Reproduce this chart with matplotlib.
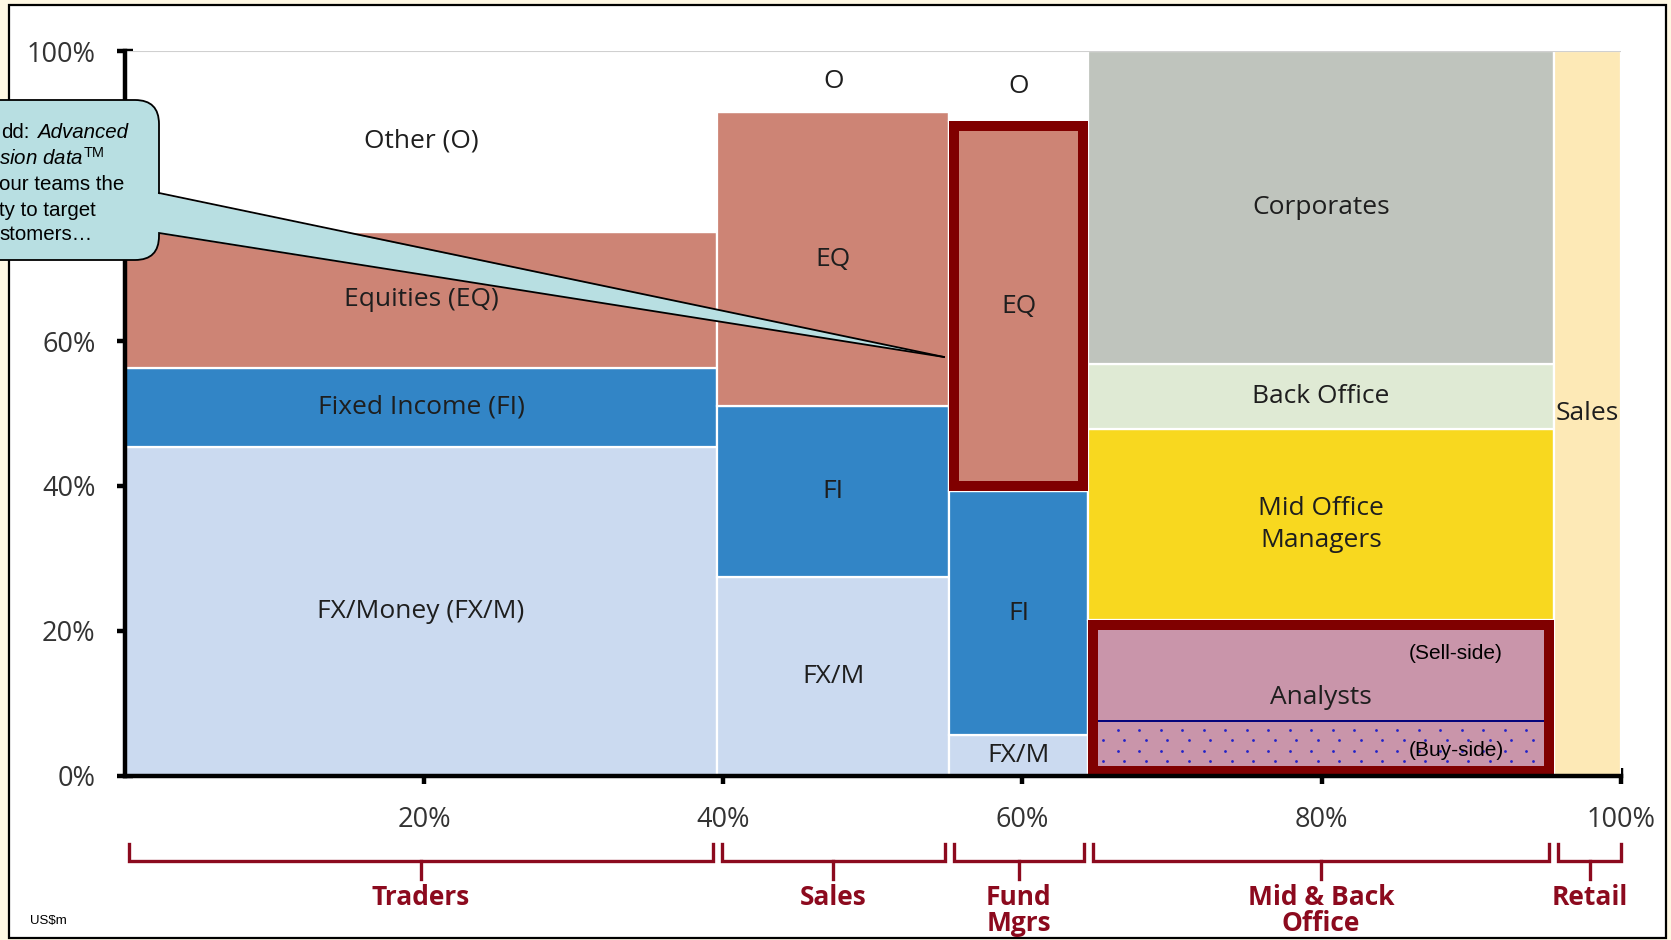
import numpy as np
import matplotlib
matplotlib.use("Agg")
import matplotlib.pyplot as plt
import matplotlib.transforms as mtransforms
from matplotlib.patches import Rectangle, FancyBboxPatch, Polygon
from matplotlib.lines import Line2D

# ---------------------------------------------------------------- data
groups = ['Traders', 'Sales', 'Fund\nMgrs', 'Mid & Back\nOffice', 'Retail']
group_widths = [39.6, 15.5, 9.3, 31.1, 4.5]          # % of total spend

# stacked bottom -> top within each column (% of column)
traders_shares = [45.4, 10.9, 18.8, 24.9]
traders_labels = ['FX/Money (FX/M)', 'Fixed Income (FI)', 'Equities (EQ)', 'Other (O)']
sales_shares = [27.5, 23.5, 40.6, 8.4]
sales_labels = ['FX/M', 'FI', 'EQ', 'O']
fund_shares = [5.6, 33.7, 51.0, 9.7]
fund_labels = ['FX/M', 'FI', 'EQ', 'O']
office_shares = [21.5, 26.3, 9.1, 43.1]
office_labels = ['Analysts', 'Mid Office\nManagers', 'Back Office', 'Corporates']
retail_shares = [100.0]
retail_labels = ['Sales']
buy_side_share = 7.5                                   # lower part of Analysts

y_ticks = [0, 20, 40, 60, 80, 100]
y_tick_labels = ['0%', '20%', '40%', '60%', '', '100%']   # 80% sits under the callout
x_ticks = [20, 40, 60, 80, 100]
x_tick_labels = ['20%', '40%', '60%', '80%', '100%']

market_colors = ['#CBDAF0', '#3285C6', '#CD8475', '#FFFFFF']
office_colors = ['#C995AA', '#F8D81F', '#DFEAD4', '#BFC4BD']
retail_colors = ['#FDE9B6']

# (column, segment) pairs outlined in red
highlights = [(2, 2), (3, 0)]

# ---------------------------------------------------------------- style
W, H, DPI = 1671, 940, 100
LABEL_FONT = 'Open Sans'
NOTE_FONT = 'Liberation Sans'
TEXT_COL = '#1E1E1E'
BRACKET_COL = '#8C0A1E'
FRAME_COL = '#800000'

plt.rcParams['mathtext.fontset'] = 'custom'
plt.rcParams['mathtext.rm'] = 'Liberation Sans'
plt.rcParams['mathtext.it'] = 'Liberation Sans:italic'

fig = plt.figure(figsize=(W / DPI, H / DPI), dpi=DPI)
fig.patch.set_facecolor('#FFF8E3')

# pixel coordinates, origin top-left
px = mtransforms.Affine2D().scale(1 / W, -1 / H).translate(0, 1) + fig.transFigure

# white page with border
fig.add_artist(Rectangle((9, 5), 1657, 933, transform=px, facecolor='white',
                         edgecolor='black', lw=1.6, zorder=-5))

x0_px, x1_px, y0_px, y1_px = 124.7, 1621.0, 775.8, 51.2
ax = fig.add_axes([x0_px / W, 1 - y0_px / H, (x1_px - x0_px) / W, (y0_px - y1_px) / H])
ax.set_facecolor('none')
ax.set_xlim(0, 100)
ax.set_ylim(0, 100)
ax_w_px = x1_px - x0_px
ax_h_px = y0_px - y1_px

columns = [
    (traders_shares, traders_labels, market_colors),
    (sales_shares, sales_labels, market_colors),
    (fund_shares, fund_labels, market_colors),
    (office_shares, office_labels, office_colors),
    (retail_shares, retail_labels, retail_colors),
]

lefts = []
acc = 0.0
for w in group_widths:
    lefts.append(acc)
    acc += w

seg_bounds = {}
for ci, ((shares, labels, colors), left, width) in enumerate(zip(columns, lefts, group_widths)):
    bottom = 0.0
    for si, (val, lab, col) in enumerate(zip(shares, labels, colors)):
        ax.bar(left, val, width=width, bottom=bottom, align='edge', color=col,
               edgecolor='white', linewidth=1.6, zorder=2)
        ax.text(left + width / 2, bottom + val / 2, lab, ha='center', va='center',
                fontsize=19, family=LABEL_FONT, color=TEXT_COL, zorder=6,
                linespacing=1.35)
        seg_bounds[(ci, si)] = (left, bottom, width, val)
        bottom += val

ax.axhline(100, color='#D0D0D0', lw=1.5, zorder=3)

# red frames around the highlighted segments
frame_px = 10.0
dx = frame_px / 2 / ax_w_px * 100
dy = frame_px / 2 / ax_h_px * 100
for key in highlights:
    l, b, w, h = seg_bounds[key]
    ax.add_patch(Rectangle((l + dx, b + dy), w - 2 * dx, h - 2 * dy, facecolor='none',
                           edgecolor=FRAME_COL, lw=frame_px * 72 / DPI, zorder=5,
                           joinstyle='miter', clip_on=False))

# buy-side analysts: dotted band with dividing line
a_left, a_bottom, a_width, a_height = seg_bounds[(3, 0)]
in_l, in_r = a_left + 2 * dx, a_left + a_width - 2 * dx
in_b = 2 * dy
pitch_x = 21.5 / ax_w_px * 100
pitch_y = 10.5 / ax_h_px * 100
rows = np.arange(buy_side_share - pitch_y * 0.8, in_b, -pitch_y)
dot_x, dot_y = [], []
for k, yy in enumerate(rows):
    xs = np.arange(in_l + (0.9 if k % 2 == 0 else 0.2) * pitch_x, in_r, pitch_x)
    dot_x.extend(xs)
    dot_y.extend([yy] * len(xs))
ax.scatter(dot_x, dot_y, s=4, color='#2222C8', linewidths=0, zorder=3)
ax.plot([in_l, in_r], [buy_side_share, buy_side_share], color='#00007A', lw=1.4, zorder=4)
ax.text(a_left + a_width * 0.79, 16.9, '(Sell-side)', ha='center', va='center',
        fontsize=15, family=NOTE_FONT, color='black', zorder=6)
ax.text(a_left + a_width * 0.79, buy_side_share / 2 - 0.3, '(Buy-side)', ha='center',
        va='center', fontsize=15, family=NOTE_FONT, color='black', zorder=6)

# axes
for side in ('top', 'right'):
    ax.spines[side].set_visible(False)
for side in ('left', 'bottom'):
    ax.spines[side].set_linewidth(3.2)
    ax.spines[side].set_color('black')
    ax.spines[side].set_zorder(7)
ax.set_yticks(y_ticks)
ax.set_yticklabels(y_tick_labels)
ax.set_xticks(x_ticks)
ax.set_xticklabels(x_tick_labels)
ax.tick_params(axis='both', direction='inout', length=12, width=3.2, color='black',
               labelsize=19.5, labelcolor='#333333')
ax.tick_params(axis='y', pad=15)
ax.tick_params(axis='x', pad=16)
for lab in ax.get_xticklabels() + ax.get_yticklabels():
    lab.set_family(LABEL_FONT)

# group brackets under the axis
br = mtransforms.blended_transform_factory(ax.transData, px)
for name, left, width in zip(groups, lefts, group_widths):
    l = left + 0.3
    r = left + width - (0.3 if left + width < 100 else 0.0)
    c = (l + r) / 2
    fig.add_artist(Line2D([l, l, r, r], [844, 861, 861, 844], transform=br,
                          color=BRACKET_COL, lw=2.4, solid_joinstyle='miter'))
    fig.add_artist(Line2D([c, c], [861, 879], transform=br, color=BRACKET_COL, lw=2.4))
    fig.text(c, 884, name, transform=br, ha='center', va='top', fontsize=19,
             family=LABEL_FONT, fontweight='bold', color=BRACKET_COL, linespacing=0.95)

fig.text(30, 921, 'US$m', transform=px, ha='left', va='center', fontsize=9.5,
         family=NOTE_FONT, color='black')

# callout
teal = '#B8DFE2'
fig.add_artist(FancyBboxPatch((-60, 100), 219, 160, boxstyle='round,pad=0,rounding_size=24',
                              transform=px, facecolor=teal, edgecolor='black', lw=1.3,
                              zorder=10))
tip = (944, 357)
fig.add_artist(Polygon([(154, 193), tip, (154, 233)], closed=True, transform=px,
                       facecolor=teal, edgecolor='none', zorder=11))
for yb in (193, 233):
    fig.add_artist(Line2D([159, tip[0]], [yb, tip[1]], transform=px, color='black',
                          lw=1.3, zorder=12))

note_kw = dict(transform=px, va='center', ha='left', fontsize=14.8, family=NOTE_FONT,
               color='black', zorder=13)
fig.text(1, 132, 'dd:', **note_kw)
fig.text(37, 132, 'Advanced', style='italic', **note_kw)
fig.text(-1, 158, r'$\mathit{sion\ data}^{\mathrm{TM}}$', **note_kw)
fig.text(-1, 184, 'our teams the', **note_kw)
fig.text(-1, 210, 'ty to target', **note_kw)
fig.text(-1, 235, 'stomers…', **note_kw)

fig.savefig('out.png', dpi=DPI, facecolor=fig.get_facecolor())
